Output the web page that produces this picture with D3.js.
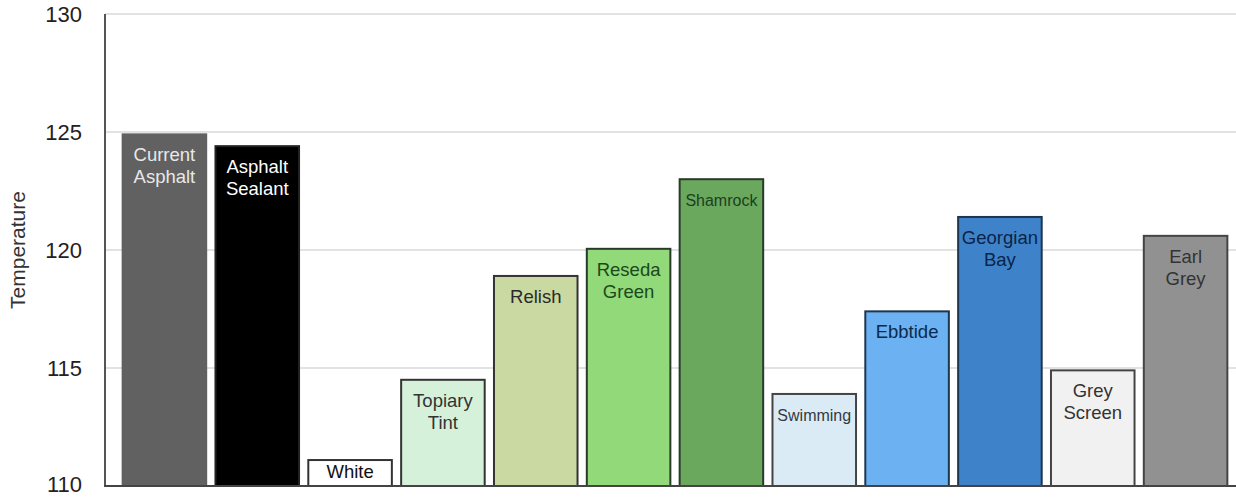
<!DOCTYPE html>
<html>
<head>
<meta charset="utf-8">
<script src="https://cdn.jsdelivr.net/npm/d3@7"></script>
<style>
  body { margin: 0; background: #fff; }
  svg { display: block; font-family: "Liberation Sans", Arial, Helvetica, sans-serif; }
</style>
</head>
<body>
<svg></svg>
<script>
const width = 1236;
const height = 497;

// data
const colours = ["Current Asphalt", "Asphalt Sealant", "White", "Topiary Tint", "Relish", "Reseda Green",
  "Shamrock", "Swimming", "Ebbtide", "Georgian Bay", "Grey Screen", "Earl Grey"];
const temperatures = [124.9, 124.4, 111.1, 114.5, 118.9, 120.05, 123.0, 113.9, 117.4, 121.4, 114.9, 120.6];
const yTicks = [110, 115, 120, 125, 130];

// styling, one entry per bar
const fills = ["#616161", "#000000", "#ffffff", "#d6f1d9", "#c9d9a1", "#92d979", "#69a85d",
  "#dbebf5", "#6cb1f1", "#3e83c9", "#f1f1f1", "#919191"];
const strokes = ["#616161", "#222", "#333", "#333", "#333", "#2a3a2a", "#2a3a2a",
  "#444", "#1e3550", "#1e3550", "#444", "#444"];
const labelInk = ["#e8e8e8", "#ffffff", "#111", "#333", "#2a2a2a", "#1a4a1a", "#1d3f1d",
  "#333a44", "#0b2a4d", "#0b2447", "#333", "#333"];
const labelSize = [18.5, 18.5, 18.5, 18.5, 18.5, 18.5, 16, 16, 18.5, 18.5, 18.5, 18.5];

const svg = d3.select("svg")
  .attr("width", width)
  .attr("height", height);

const y = d3.scaleLinear()
  .domain([110, 130])
  .range([486, 14]);

const x = d3.scaleBand()
  .domain(colours)
  .range([118, 1232])
  .paddingInner(0.1)
  .paddingOuter(0.05);

// gridlines
svg.append("g")
  .selectAll("line")
  .data(yTicks.slice(1))
  .join("line")
  .attr("x1", 105)
  .attr("x2", width)
  .attr("y1", d => y(d))
  .attr("y2", d => y(d))
  .attr("stroke", "#e2e2e2")
  .attr("stroke-width", 2);

// y axis labels
const yAxis = svg.append("g")
  .attr("transform", "translate(105,0)")
  .call(d3.axisLeft(y).tickValues(yTicks).tickSize(0).tickPadding(23));
yAxis.select(".domain").remove();
yAxis.selectAll("text")
  .attr("font-size", 22)
  .attr("fill", "#222")
  .attr("font-family", "Liberation Sans, Arial, sans-serif")
  .attr("dy", d => d === 110 ? "0.26em" : "0.32em");

svg.append("text")
  .attr("transform", `translate(25,${y(120)}) rotate(-90)`)
  .attr("text-anchor", "middle")
  .attr("font-size", 21)
  .attr("fill", "#333")
  .text("Temperature");

// bars
const bars = svg.append("g")
  .selectAll("g")
  .data(colours)
  .join("g");

bars.append("rect")
  .attr("x", d => x(d))
  .attr("y", (d, i) => y(temperatures[i]))
  .attr("width", x.bandwidth())
  .attr("height", (d, i) => y(110) - y(temperatures[i]))
  .attr("fill", (d, i) => fills[i])
  .attr("stroke", (d, i) => strokes[i])
  .attr("stroke-width", 2);

const singleLine = ["Swimming", "Shamrock", "White", "Relish", "Ebbtide"];

bars.append("text")
  .attr("x", d => x(d) + x.bandwidth() / 2)
  .attr("y", (d, i) => y(temperatures[i]) + (d === "White" ? 18 : 27))
  .attr("text-anchor", "middle")
  .attr("font-size", (d, i) => labelSize[i])
  .attr("fill", (d, i) => labelInk[i])
  .each(function (d) {
    const words = singleLine.includes(d) ? [d] : d.split(" ");
    d3.select(this).selectAll("tspan")
      .data(words)
      .join("tspan")
      .attr("x", x(d) + x.bandwidth() / 2)
      .attr("dy", (w, j) => j === 0 ? 0 : 22)
      .text(w => w);
  });

// axis lines
svg.append("line")
  .attr("x1", 105).attr("x2", 105)
  .attr("y1", y(130)).attr("y2", y(110))
  .attr("stroke", "#555").attr("stroke-width", 2);
svg.append("line")
  .attr("x1", 104).attr("x2", width)
  .attr("y1", y(110)).attr("y2", y(110))
  .attr("stroke", "#444").attr("stroke-width", 2);
</script>
</body>
</html>
